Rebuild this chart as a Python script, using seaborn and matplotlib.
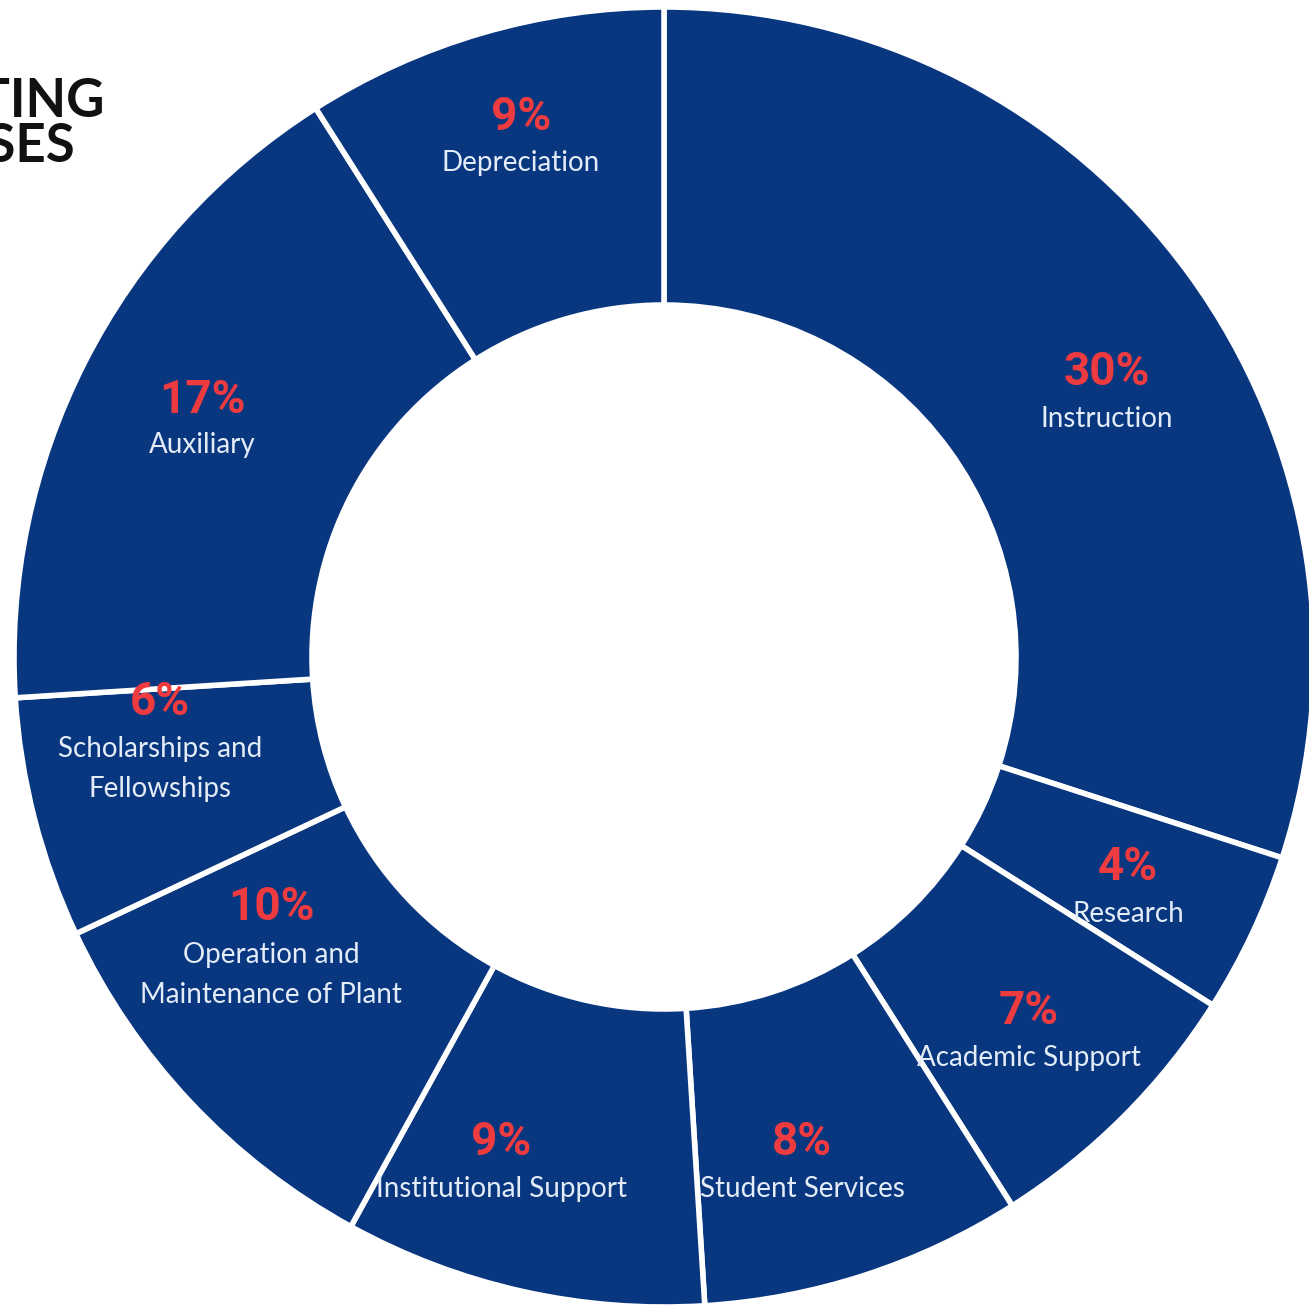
import matplotlib
matplotlib.use("Agg")
import matplotlib.pyplot as plt
import seaborn as sns

# Operating expenses by function (share of total, %)
categories = [
    "Instruction",
    "Research",
    "Academic Support",
    "Student Services",
    "Institutional Support",
    "Operation and\nMaintenance of Plant",
    "Scholarships and\nFellowships",
    "Auxiliary",
    "Depreciation",
]
shares = [30, 4, 7, 8, 9, 10, 6, 17, 9]
pct_labels = [f"{v}%" for v in shares]
title_lines = ["OPERATING", "EXPENSES"]

# Layout (pixel coordinates, origin top-left)
W = H = 1309
CX, CY = 664, 657
R_OUT, R_IN = 650, 352
pct_pos = [(1107, 372), (1128, 867), (1029, 1011), (802, 1142), (501, 1142),
           (271, 907), (160, 702), (202, 400), (521, 117)]
name_pos = [(1107, 419), (1128, 914), (1029, 1058), (802, 1189), (501, 1189),
            (271, 975), (160, 769), (202, 445), (521, 163)]

NAVY = "#083780"
RED = "#EE3B3F"
LABEL = "#E3ECF7"

sns.set_theme(style="white")
plt.rcParams["font.family"] = ["Lato", "DejaVu Sans"]

fig = plt.figure(figsize=(W / 100, H / 100), dpi=100)
ax = fig.add_axes([0, 0, 1, 1])

palette = sns.color_palette([NAVY] * len(shares))
ax.pie(
    shares,
    colors=palette,
    startangle=90,
    counterclock=False,
    radius=R_OUT,
    center=(CX, H - CY),
    wedgeprops=dict(width=R_OUT - R_IN, edgecolor="white", linewidth=4),
)
ax.set_xlim(0, W)
ax.set_ylim(0, H)
ax.set_aspect("equal")
ax.axis("off")

for pct, name, (px, py), (nx, ny) in zip(pct_labels, categories, pct_pos, name_pos):
    ax.text(px, H - py, pct, ha="center", va="center", color=RED,
            fontsize=33, fontweight="bold", family=["Roboto", "DejaVu Sans"])
    ax.text(nx, H - ny, name, ha="center", va="center", color=LABEL,
            fontsize=20, fontweight="normal", linespacing=1.7,
            family=["Lato", "DejaVu Sans"])

# Title block, running off the left edge
ax.text(104, H - 117, title_lines[0], ha="right", va="baseline", color="#111111",
        fontsize=38, fontweight="bold")
ax.text(75, H - 162, title_lines[1], ha="right", va="baseline", color="#111111",
        fontsize=38, fontweight="bold")

fig.savefig("out.png", dpi=100, facecolor="white")
